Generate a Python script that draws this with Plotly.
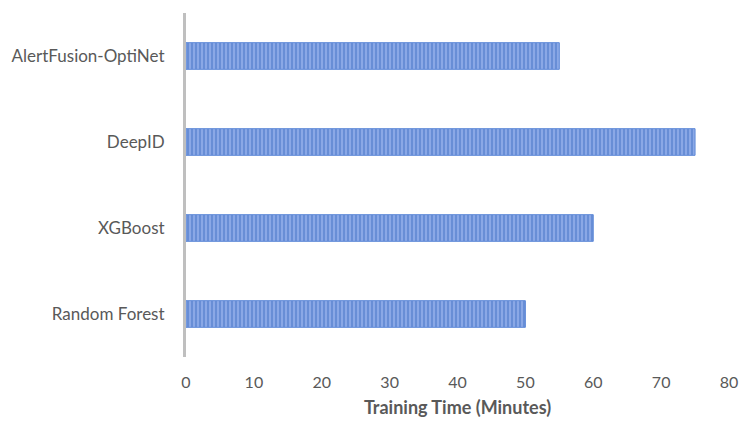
import plotly.graph_objects as go

categories = ["Random Forest", "XGBoost", "DeepID", "AlertFusion-OptiNet"]
training_time = [50, 60, 75, 55]
x_ticks = [0, 10, 20, 30, 40, 50, 60, 70, 80]

fig = go.Figure()
fig.add_trace(go.Bar(
    y=categories, x=training_time, orientation="h",
    marker=dict(
        color="#86a6e4",
        line=dict(color="#5f8ad8", width=1),
        pattern=dict(shape="|", fgcolor="#4472C4", bgcolor="#8dabe8", size=4, solidity=0.55),
    ),
    width=0.31,
))
fig.update_layout(
    width=741, height=421,
    margin=dict(l=186, r=12, t=13, b=64),
    paper_bgcolor="white", plot_bgcolor="white",
    font=dict(family="Lato, Open Sans, sans-serif", color="#595959", size=17),
    showlegend=False,
    xaxis=dict(
        range=[0, 80], tickvals=x_ticks, showgrid=False, zeroline=False, automargin=False,
        showline=False, ticks="", tickfont=dict(size=16), ticklabelstandoff=14,
        title=dict(text="<b>Training Time (Minutes)</b>", font=dict(size=18, color="#595959"), standoff=11),
    ),
    yaxis=dict(
        categoryorder="array", categoryarray=categories, automargin=False,
        showline=True, linecolor="#bfbfbf", linewidth=3, showgrid=False,
        ticks="", ticklabelstandoff=15, tickfont=dict(size=17),
    ),
)
fig.write_html("out.html", config={"displayModeBar": False},
               post_script="document.body.style.margin='0';")
